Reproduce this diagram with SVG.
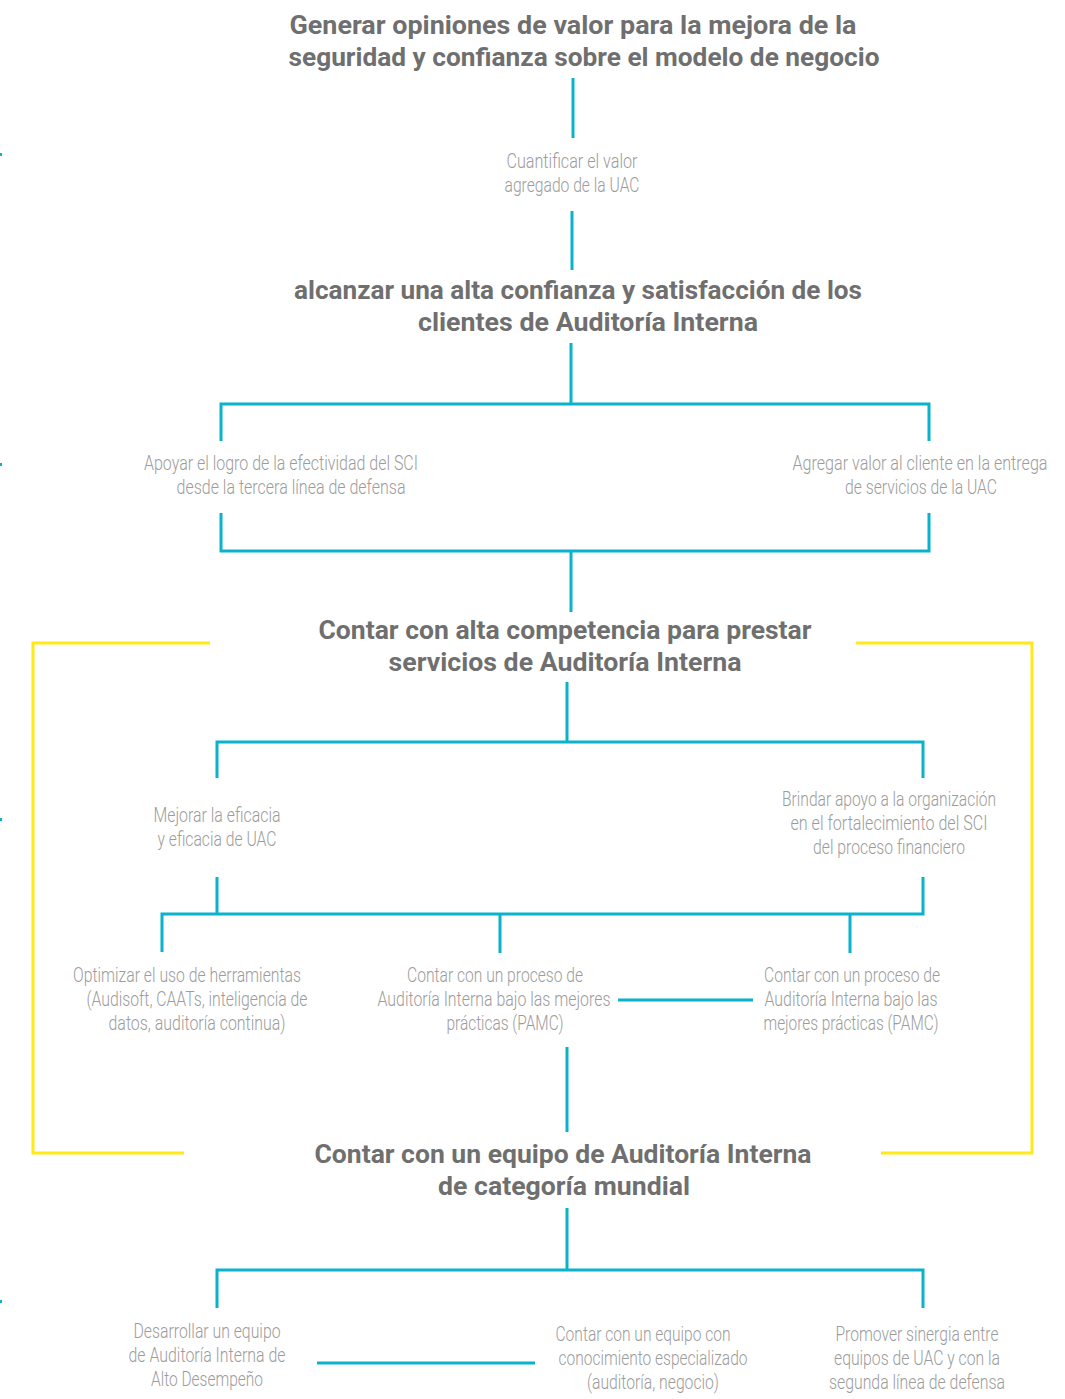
<svg xmlns="http://www.w3.org/2000/svg" width="1065" height="1399" viewBox="0 0 1065 1399">
  <style>
    .h { font-family: "Roboto", "Liberation Sans", sans-serif; font-weight: 700; font-size: 25px; fill: #6f6f6f; text-anchor: middle; }
    .t { font-family: "Roboto", "Liberation Sans", sans-serif; font-weight: 300; font-size: 21px; fill: #9c9c9c; text-anchor: middle; }
    .c { fill: none; stroke: #0ab2cc; stroke-width: 3; }
    .y { fill: none; stroke: #ffe916; stroke-width: 3; }
  </style>
  <rect width="1065" height="1399" fill="#ffffff"/>

  <!-- small edge marks -->
  <g fill="#0ab2cc">
    <rect x="0" y="153" width="2" height="3"/>
    <rect x="0" y="463" width="2" height="3"/>
    <rect x="0" y="818" width="2" height="3"/>
    <rect x="0" y="1300" width="2" height="3"/>
  </g>

  <!-- connectors -->
  <g id="connectors">
    <path class="c" d="M573 78 V138"/>
    <path class="c" d="M572 211 V270"/>
    <path class="c" d="M571 343 V404 M221 441 V404 H929 V441"/>
    <path class="c" d="M221 513 V551 H929 V513 M571 551 V612"/>
    <path class="c" d="M567 682 V742 M217 778 V742 H923 V778"/>
    <path class="c" d="M217 877 V914 M923 877 V914 H162 V952 M500 914 V953 M850 914 V953"/>
    <path class="c" d="M618 1000 H753"/>
    <path class="c" d="M567 1047 V1132"/>
    <path class="c" d="M567 1208 V1270 M217 1308 V1270 H923 V1308"/>
    <path class="c" d="M317 1363 H535"/>
    <path class="y" d="M210 643 H33 V1153 H184"/>
    <path class="y" d="M856 643 H1032 V1153 H881"/>
  </g>

  <g id="n-generar">
    <text class="h" x="573" y="34" textLength="567" lengthAdjust="spacingAndGlyphs">Generar opiniones de valor para la mejora de la</text>
    <text class="h" x="584" y="66" textLength="591" lengthAdjust="spacingAndGlyphs">seguridad y confianza sobre el modelo de negocio</text>
  </g>

  <g id="n-cuantificar">
    <text class="t" x="572" y="168" textLength="131" lengthAdjust="spacingAndGlyphs">Cuantificar el valor</text>
    <text class="t" x="572" y="192" textLength="135" lengthAdjust="spacingAndGlyphs">agregado de la UAC</text>
  </g>

  <g id="n-alcanzar">
    <text class="h" x="578" y="299" textLength="568" lengthAdjust="spacingAndGlyphs">alcanzar una alta confianza y satisfacción de los</text>
    <text class="h" x="588" y="331" textLength="340" lengthAdjust="spacingAndGlyphs">clientes de Auditoría Interna</text>
  </g>

  <g id="n-apoyar">
    <text class="t" x="281" y="470" textLength="274" lengthAdjust="spacingAndGlyphs">Apoyar el logro de la efectividad del SCI</text>
    <text class="t" x="291" y="494" textLength="229" lengthAdjust="spacingAndGlyphs">desde la tercera línea de defensa</text>
  </g>

  <g id="n-agregar">
    <text class="t" x="920" y="470" textLength="255" lengthAdjust="spacingAndGlyphs">Agregar valor al cliente en la entrega</text>
    <text class="t" x="921" y="494" textLength="152" lengthAdjust="spacingAndGlyphs">de servicios de la UAC</text>
  </g>

  <g id="n-competencia">
    <text class="h" x="565" y="639" textLength="493" lengthAdjust="spacingAndGlyphs">Contar con alta competencia para prestar</text>
    <text class="h" x="565" y="671" textLength="353" lengthAdjust="spacingAndGlyphs">servicios de Auditoría Interna</text>
  </g>

  <g id="n-mejorar">
    <text class="t" x="217" y="822" textLength="127" lengthAdjust="spacingAndGlyphs">Mejorar la eficacia</text>
    <text class="t" x="217" y="846" textLength="119" lengthAdjust="spacingAndGlyphs">y eficacia de UAC</text>
  </g>

  <g id="n-brindar">
    <text class="t" x="889" y="806" textLength="214" lengthAdjust="spacingAndGlyphs">Brindar apoyo a la organización</text>
    <text class="t" x="889" y="830" textLength="197" lengthAdjust="spacingAndGlyphs">en el fortalecimiento del SCI</text>
    <text class="t" x="889" y="854" textLength="152" lengthAdjust="spacingAndGlyphs">del proceso financiero</text>
  </g>

  <g id="n-optimizar">
    <text class="t" x="187" y="982" textLength="228" lengthAdjust="spacingAndGlyphs">Optimizar el uso de herramientas</text>
    <text class="t" x="197" y="1006" textLength="221" lengthAdjust="spacingAndGlyphs">(Audisoft, CAATs, inteligencia de</text>
    <text class="t" x="197" y="1030" textLength="177" lengthAdjust="spacingAndGlyphs">datos, auditoría continua)</text>
  </g>

  <g id="n-proceso-a">
    <text class="t" x="495" y="982" textLength="176" lengthAdjust="spacingAndGlyphs">Contar con un proceso de</text>
    <text class="t" x="494" y="1006" textLength="233" lengthAdjust="spacingAndGlyphs">Auditoría Interna bajo las mejores</text>
    <text class="t" x="505" y="1030" textLength="117" lengthAdjust="spacingAndGlyphs">prácticas (PAMC)</text>
  </g>

  <g id="n-proceso-b">
    <text class="t" x="852" y="982" textLength="176" lengthAdjust="spacingAndGlyphs">Contar con un proceso de</text>
    <text class="t" x="851" y="1006" textLength="173" lengthAdjust="spacingAndGlyphs">Auditoría Interna bajo las</text>
    <text class="t" x="851" y="1030" textLength="175" lengthAdjust="spacingAndGlyphs">mejores prácticas (PAMC)</text>
  </g>

  <g id="n-equipo">
    <text class="h" x="563" y="1163" textLength="497" lengthAdjust="spacingAndGlyphs">Contar con un equipo de Auditoría Interna</text>
    <text class="h" x="564" y="1195" textLength="252" lengthAdjust="spacingAndGlyphs">de categoría mundial</text>
  </g>

  <g id="n-desarrollar">
    <text class="t" x="207" y="1338" textLength="147" lengthAdjust="spacingAndGlyphs">Desarrollar un equipo</text>
    <text class="t" x="207" y="1362" textLength="157" lengthAdjust="spacingAndGlyphs">de Auditoría Interna de</text>
    <text class="t" x="207" y="1386" textLength="112" lengthAdjust="spacingAndGlyphs">Alto Desempeño</text>
  </g>

  <g id="n-especializado">
    <text class="t" x="643" y="1341" textLength="175" lengthAdjust="spacingAndGlyphs">Contar con un equipo con</text>
    <text class="t" x="653" y="1365" textLength="189" lengthAdjust="spacingAndGlyphs">conocimiento especializado</text>
    <text class="t" x="653" y="1389" textLength="132" lengthAdjust="spacingAndGlyphs">(auditoría, negocio)</text>
  </g>

  <g id="n-sinergia">
    <text class="t" x="917" y="1341" textLength="163" lengthAdjust="spacingAndGlyphs">Promover sinergia entre</text>
    <text class="t" x="917" y="1365" textLength="166" lengthAdjust="spacingAndGlyphs">equipos de UAC y con la</text>
    <text class="t" x="917" y="1389" textLength="176" lengthAdjust="spacingAndGlyphs">segunda línea de defensa</text>
  </g>
</svg>
